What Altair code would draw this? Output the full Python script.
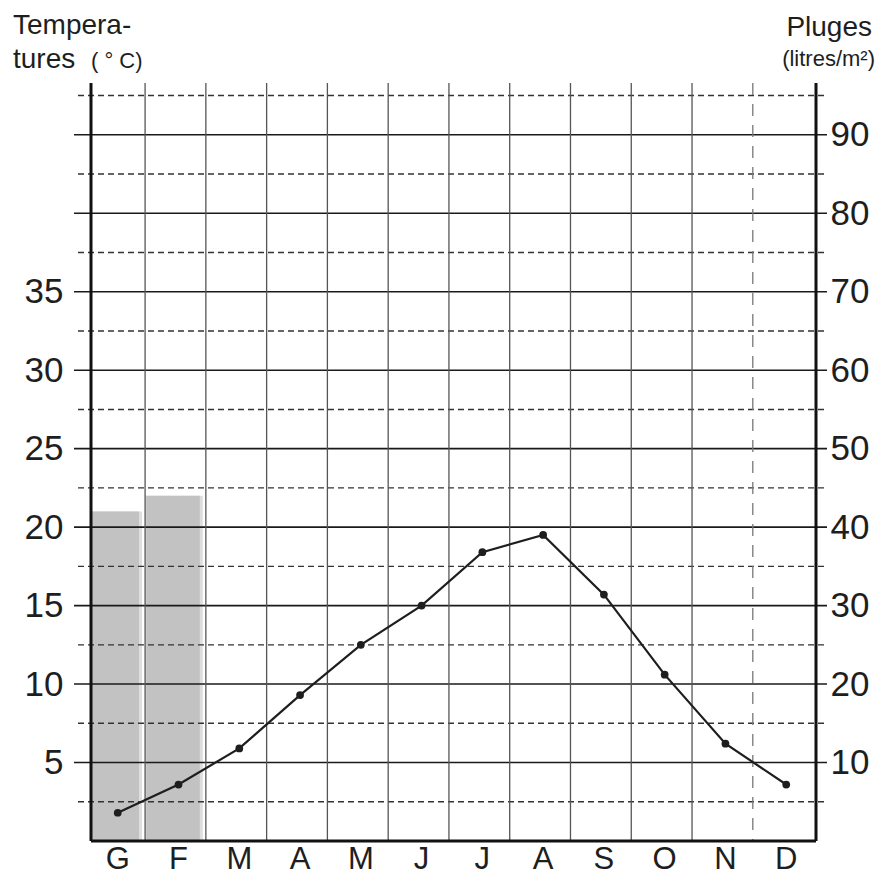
import altair as alt
import pandas as pd

# ---- data ----
months = ["G", "F", "M", "A", "M", "J", "J", "A", "S", "O", "N", "D"]
temperature = [1.8, 3.6, 5.9, 9.3, 12.5, 15.0, 18.4, 19.5, 15.7, 10.6, 6.2, 3.6]   # °C
precipitation = [42, 44, 0, 0, 0, 0, 0, 0, 0, 0, 0, 0]                            # litres/m2
temp_labels = [5, 10, 15, 20, 25, 30, 35]
precip_labels = [10, 20, 30, 40, 50, 60, 70, 80, 90]
solid_levels = [5, 10, 15, 20, 25, 30, 35, 40, 45]            # °C
dashed_levels = [2.5, 7.5, 12.5, 17.5, 22.5, 27.5, 32.5, 37.5, 42.5, 47.5]
solid_bounds = [1, 2, 3, 4, 5, 6, 7, 8, 9, 10]
dashed_bounds = [11]
titles_left = ["Tempera-", "tures", "( ° C)"]
titles_right = ["Pluges", "(litres/m²)"]

W, H = 725, 758
TMAX = 48.3
XDOM = [0.11, 12.04]
FONT = "Liberation Sans"
INK = "#1e1e1e"

df = pd.DataFrame({"i": list(range(12)), "month": months,
                   "temp": temperature, "precip": precipitation})

xs = alt.Scale(domain=XDOM, nice=False, zero=False)
ts = alt.Scale(domain=[0, TMAX], nice=False, zero=False)
ps = alt.Scale(domain=[0, 2 * TMAX], nice=False, zero=False)

t_axis = alt.Axis(orient="left", values=temp_labels, labelFontSize=35, labelFont=FONT,
                  labelColor=INK, labelPadding=28, ticks=False, domain=False, grid=False,
                  title=None, labelFlush=False, labelOverlap=False)
p_axis = alt.Axis(orient="right", values=precip_labels, labelFontSize=35, labelFont=FONT,
                  labelColor=INK, labelPadding=14, ticks=False, domain=False, grid=False,
                  title=None, labelFlush=False, labelOverlap=False)

# ---- precipitation bars (right scale) ----
bar_base = alt.Chart(df).transform_filter("datum.precip > 0").transform_calculate(
    xa="datum.i", xb="datum.i + 0.95", xc="datum.i + 0.02", xd="datum.i + 0.9", p0="0")
light_bar = bar_base.mark_rect(color="#dedede", clip=True).encode(
    x=alt.X("xa:Q", scale=xs, axis=None), x2="xb:Q",
    y=alt.Y("precip:Q", scale=ps, axis=p_axis), y2="p0:Q")
dark_bar = bar_base.mark_rect(color="#c2c2c2", clip=True).encode(
    x=alt.X("xc:Q", scale=xs, axis=None), x2="xd:Q",
    y=alt.Y("precip:Q", scale=ps, axis=p_axis), y2="p0:Q")
bars = alt.layer(light_bar, dark_bar)

# ---- grid ----
solid_h = alt.Chart(pd.DataFrame({"v": solid_levels})).mark_rule(
    color="#1a1a1a", strokeWidth=1.6).encode(
    y=alt.Y("v:Q", scale=ts, axis=t_axis), x=alt.value(-17), x2=alt.value(W + 11))
dashed_h = alt.Chart(pd.DataFrame({"v": dashed_levels})).mark_rule(
    color="#333", strokeWidth=1.4, strokeDash=[6, 4]).encode(
    y=alt.Y("v:Q", scale=ts, axis=t_axis), x=alt.value(-13), x2=alt.value(W + 10))
solid_v = alt.Chart(pd.DataFrame({"b": solid_bounds})).mark_rule(
    color="#555", strokeWidth=1.3).encode(
    x=alt.X("b:Q", scale=xs, axis=None), y=alt.value(0), y2=alt.value(H))
dashed_v = alt.Chart(pd.DataFrame({"b": dashed_bounds})).mark_rule(
    color="#777", strokeWidth=1.3, strokeDash=[12, 9]).encode(
    x=alt.X("b:Q", scale=xs, axis=None), y=alt.value(0), y2=alt.value(H))
frame_l = alt.Chart(pd.DataFrame({"k": [0]})).mark_rule(color="#111", strokeWidth=3).encode(
    x=alt.value(0), y=alt.value(0), y2=alt.value(H))
frame_r = alt.Chart(pd.DataFrame({"k": [0]})).mark_rule(color="#111", strokeWidth=3).encode(
    x=alt.value(W), y=alt.value(0), y2=alt.value(H))
frame_b = alt.Chart(pd.DataFrame({"k": [0]})).mark_rule(color="#111", strokeWidth=3).encode(
    y=alt.value(H), x=alt.value(0), x2=alt.value(W))

# ---- temperature curve ----
tbase = alt.Chart(df).transform_calculate(xc="datum.i + 0.55")
line = tbase.mark_line(color=INK, strokeWidth=2.2).encode(
    x=alt.X("xc:Q", scale=xs, axis=None), y=alt.Y("temp:Q", scale=ts, axis=t_axis))
pts = tbase.mark_circle(color=INK, size=60, opacity=1).encode(
    x=alt.X("xc:Q", scale=xs, axis=None), y=alt.Y("temp:Q", scale=ts, axis=t_axis))
mlabels = tbase.mark_text(fontSize=31, font=FONT, color=INK, baseline="alphabetic",
                          align="center").encode(
    x=alt.X("xc:Q", scale=xs, axis=None), y=alt.value(H + 28), text="month:N")

# ---- titles ----
def label(txt, x, y, size, align="left"):
    return alt.Chart(pd.DataFrame({"t": [txt]})).mark_text(
        fontSize=size, font=FONT, color=INK, align=align, baseline="alphabetic").encode(
        x=alt.value(x), y=alt.value(y), text="t:N")

t1 = label(titles_left[0], -78, -49, 28)
t2 = label(titles_left[1], -78, -15, 28)
t3 = label(titles_left[2], 0, -15, 22)
t4 = label(titles_right[0], 781, -47, 28, "right")
t5 = label(titles_right[1], 784, -17, 22, "right")

temp_layer = alt.layer(solid_h, dashed_h, solid_v, dashed_v, frame_l, frame_r, frame_b,
                       line, pts, mlabels, t1, t2, t3, t4, t5)

chart = alt.layer(bars, temp_layer).resolve_scale(y="independent").properties(
    width=W, height=H,
    autosize=alt.AutoSizeParams(type="none"),
    padding={"left": 83, "top": 75, "right": 63, "bottom": 36},
    background="white",
).configure_view(stroke=None)

chart.save("out.html", embed_options={"renderer": "svg", "actions": False})
